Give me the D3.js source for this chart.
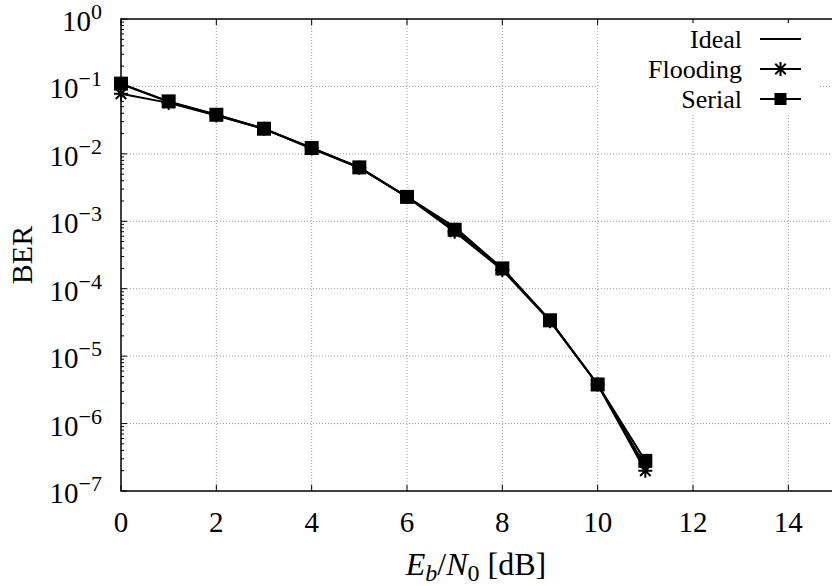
<!DOCTYPE html>
<html>
<head>
<meta charset="utf-8">
<script src="https://cdn.jsdelivr.net/npm/d3@7"></script>
<style>
body { margin: 0; background: #fff; }
text { font-family: "Liberation Serif", "Times New Roman", serif; fill: #000; }
</style>
</head>
<body>
<svg id="chart" width="832" height="586"></svg>
<script>
var snr = [0, 1, 2, 3, 4, 5, 6, 7, 8, 9, 10, 11];
var ideal = [0.108, 0.059, 0.038, 0.0235, 0.0122, 0.0063, 0.0023, 0.00082, 0.0002, 3.4e-5, 3.8e-6, 2.3e-7];
var flooding = [0.078, 0.057, 0.037, 0.0235, 0.012, 0.0062, 0.0023, 0.0007, 0.00019, 3.3e-5, 3.8e-6, 2.0e-7];
var serial = [0.11, 0.06, 0.038, 0.0236, 0.0122, 0.0063, 0.0023, 0.00075, 0.0002, 3.4e-5, 3.8e-6, 2.8e-7];
var xTicks = [0, 2, 4, 6, 8, 10, 12, 14];
var yExps = [0, -1, -2, -3, -4, -5, -6, -7];
var legendNames = ["Ideal", "Flooding", "Serial"];

var svg = d3.select("#chart");
var mLeft = 121, mTop = 19, mRight = 836, mBottom = 491;

var x = d3.scaleLinear().domain([0, 15]).range([mLeft, mRight]);
var y = d3.scaleLog().domain([1e-7, 1]).range([mBottom, mTop]);

// grid
var grid = svg.append("g").attr("stroke", "#999").attr("stroke-width", 1).attr("stroke-dasharray", "1,2");
grid.selectAll(".gx").data(xTicks.slice(1)).enter().append("line")
  .attr("x1", function(d) { return x(d); }).attr("x2", function(d) { return x(d); })
  .attr("y1", mTop).attr("y2", mBottom);
grid.selectAll(".gy").data(yExps.slice(1, -1)).enter().append("line")
  .attr("x1", mLeft).attr("x2", mRight)
  .attr("y1", function(d) { return y(Math.pow(10, d)); }).attr("y2", function(d) { return y(Math.pow(10, d)); });

// axis ticks
var ax = svg.append("g").attr("stroke", "#000").attr("stroke-width", 1);
xTicks.forEach(function(t) {
  ax.append("line").attr("x1", x(t)).attr("x2", x(t)).attr("y1", mBottom).attr("y2", mBottom - 6);
  ax.append("line").attr("x1", x(t)).attr("x2", x(t)).attr("y1", mTop).attr("y2", mTop + 6);
});
yExps.forEach(function(e) {
  ax.append("line").attr("x1", mLeft).attr("x2", mLeft + 6).attr("y1", y(Math.pow(10, e))).attr("y2", y(Math.pow(10, e)));
  if (e > -7) {
    for (var m = 2; m < 10; m++) {
      var v = m * Math.pow(10, e - 1);
      ax.append("line").attr("x1", mLeft).attr("x2", mLeft + 3).attr("y1", y(v)).attr("y2", y(v));
    }
  }
});

// legend background
svg.append("rect").attr("x", 598).attr("y", 23).attr("width", 222).attr("height", 90).attr("fill", "#fff");

// frame
svg.append("rect").attr("x", mLeft).attr("y", mTop).attr("width", mRight - mLeft).attr("height", mBottom - mTop)
  .attr("fill", "none").attr("stroke", "#000").attr("stroke-width", 1.5);

// tick labels
svg.append("g").selectAll("text").data(xTicks).enter().append("text")
  .attr("x", function(d) { return x(d); }).attr("y", 532)
  .attr("text-anchor", "middle").style("font-size", "29px").text(function(d) { return d; });

var yl = svg.append("g").selectAll("text").data(yExps).enter().append("text")
  .attr("x", 102).attr("y", function(d) { return y(Math.pow(10, d)) + 12; })
  .attr("text-anchor", "end").style("font-size", "29px");
yl.append("tspan").text("10");
yl.append("tspan").attr("dy", -12).style("font-size", "22px")
  .text(function(d) { return d === 0 ? "0" : "\u2212" + (-d); });

// axis titles
svg.append("text").attr("transform", "translate(32,255) rotate(-90)")
  .attr("text-anchor", "middle").style("font-size", "30px").text("BER");
var xt = svg.append("text").attr("x", 476).attr("y", 575).attr("text-anchor", "middle").style("font-size", "32px");
xt.append("tspan").style("font-style", "italic").text("E");
xt.append("tspan").style("font-style", "italic").style("font-size", "24px").attr("dy", 6).text("b");
xt.append("tspan").attr("dy", -6).text("/");
xt.append("tspan").style("font-style", "italic").text("N");
xt.append("tspan").style("font-size", "24px").attr("dy", 6).text("0");
xt.append("tspan").attr("dy", -6).text(" [dB]");

// series lines
var line = d3.line().x(function(d, i) { return x(snr[i]); }).y(function(d) { return y(d); });
var plot = svg.append("g");
[ideal, flooding, serial].forEach(function(s) {
  plot.append("path").datum(s).attr("d", line).attr("fill", "none").attr("stroke", "#000").attr("stroke-width", 2);
});

function star(g, cx, cy, r) {
  var p = "M" + (cx - r) + "," + cy + "H" + (cx + r) +
    "M" + cx + "," + (cy - r) + "V" + (cy + r) +
    "M" + (cx - r * 0.75) + "," + (cy - r * 0.75) + "L" + (cx + r * 0.75) + "," + (cy + r * 0.75) +
    "M" + (cx - r * 0.75) + "," + (cy + r * 0.75) + "L" + (cx + r * 0.75) + "," + (cy - r * 0.75);
  g.append("path").attr("d", p).attr("stroke", "#000").attr("stroke-width", 2).attr("fill", "none");
}
flooding.forEach(function(d, i) { star(plot, x(snr[i]), y(d), 7); });
plot.selectAll(".sq").data(serial).enter().append("rect")
  .attr("x", function(d, i) { return x(snr[i]) - 7; })
  .attr("y", function(d) { return y(d) - 7; })
  .attr("width", 14).attr("height", 14).attr("fill", "#000");

// legend
var lg = svg.append("g");
legendNames.forEach(function(n, i) {
  var ly = 39 + i * 30;
  lg.append("text").attr("x", 742).attr("y", ly + 9).attr("text-anchor", "end").style("font-size", "26px").text(n);
  lg.append("line").attr("x1", 760).attr("x2", 801).attr("y1", ly).attr("y2", ly).attr("stroke", "#000").attr("stroke-width", 2);
});
star(lg, 780.5, 39 + 30, 7);
lg.append("rect").attr("x", 774.5).attr("y", 39 + 60 - 6).attr("width", 12).attr("height", 12).attr("fill", "#000");
</script>
</body>
</html>
